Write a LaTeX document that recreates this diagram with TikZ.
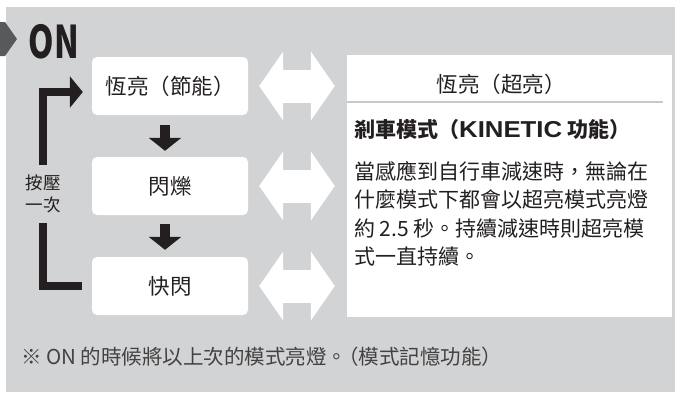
\documentclass[tikz,border=0pt]{standalone}
\usepackage{fontspec}
\setmainfont{Noto Sans CJK TC}
\newfontfamily\latinface{Liberation Sans}
\usetikzlibrary{arrows.meta}
\definecolor{panelgray}{HTML}{D1D3D4}
\definecolor{ink}{HTML}{231F20}
\definecolor{pointer}{HTML}{58595B}
\definecolor{rulegray}{HTML}{C7C8CA}

\begin{document}
\begin{tikzpicture}[x=1pt,y=-1pt]
        \tikzstyle{every node}=[text=ink, inner sep=0pt]
        \tikzstyle{mode}=[fill=white, rounded corners=5pt, minimum width=156pt, minimum height=58pt, font=\fontsize{21.5}{24}\selectfont]
        \tikzstyle{next}=[draw=ink, line width=10pt, -{Triangle[width=32pt,length=13pt]}]
        \tikzstyle{swap}=[draw=white, line width=33pt, {Triangle[width=68pt,length=24pt]}-{Triangle[width=68pt,length=24pt]}]
        \tikzstyle{bracket}=[draw=ink, line width=8pt]
        \useasboundingbox (0,0) rectangle (675,392);
        \fill[panelgray] (6,7) rectangle (675,392);
        \fill[pointer] (0,22) -- (5,22) -- (17,39) -- (5,56) -- (0,56) -- cycle;
        \node[anchor=west, font=\fontsize{45}{45}\bfseries] (on) at (28.5,41.5) {\scalebox{0.72}[1]{ON}};
        % modes on the left
        \node[mode] (steady) at (170,86) {恆亮（節能）};
        \node[mode] (flash) at (170,186) {閃爍};
        \node[mode] (quick) at (170,286) {快閃};
        \draw[next, shorten <=10pt, shorten >=6pt] ([xshift=-5pt]steady.south) -- ([xshift=-5pt]flash.north);
        \draw[next, shorten <=9pt, shorten >=7pt] ([xshift=-5pt]flash.south) -- ([xshift=-5pt]quick.north);
        \node[font=\fontsize{17.5}{22}\selectfont, align=center, inner ysep=10pt] (press) at (43,194) {按壓\\一次};
        \draw[bracket, -{Triangle[width=31pt,length=13pt]}, shorten >=9pt] (press.north) |- ([yshift=-6pt]steady.west);
        \draw[bracket, shorten >=10pt] (press.south) |- (quick.west);
        % boost panel
        \node[fill=white, minimum width=325pt, minimum height=262pt] (boost) at (509.5,186) {};
        \draw[rulegray, line width=2pt] ([yshift=-47pt]boost.north west) -- ([xshift=-9pt,yshift=-47pt]boost.north east);
        \node[font=\fontsize{21.5}{24}\selectfont] (boosttitle) at (501,84) {恆亮（超亮）};
        \node[anchor=west, font=\fontsize{21}{24}\bfseries] (kinetic) at (354,130) {剎車模式（{\latinface\fontsize{23}{24}\selectfont\scalebox{1.12}[1]{KINETIC}} 功能）};
        \node[anchor=north west, align=left, font=\fontsize{21}{28.5}\selectfont] (brake) at (354,161) {當感應到自行車減速時，無論在\\什麼模式下都會以超亮模式亮燈\\約 2.5 秒。持續減速時則超亮模\\式一直持續。};
        \foreach \m in {steady,flash,quick}
            \draw[swap, shorten <=11pt, shorten >=12pt] (\m.east) -- (\m.east -| boost.west);
        \node[anchor=west, font=\fontsize{20.5}{24}\selectfont, text=ink!85] (memo) at (21,357) {※ ON 的時候將以上次的模式亮燈。\hspace{-0.45em}（模式記憶功能）};
\end{tikzpicture}
\end{document}
